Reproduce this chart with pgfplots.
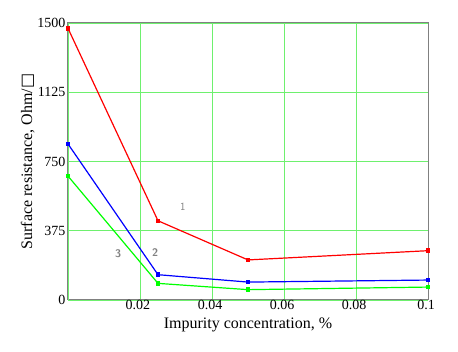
\documentclass[border=0pt]{standalone}
\usepackage{pgfplots}
\pgfplotsset{compat=1.18}
\usepackage{fontspec}
\setmainfont{Liberation Serif}
\newfontfamily\symfont{DejaVu Sans}
\definecolor{gridgreen}{RGB}{110,240,110}
\definecolor{framegray}{RGB}{128,128,128}
\begin{document}
\begin{tikzpicture}
\begin{axis}[
    scale only axis,
    width=360pt, height=277pt,
    xmin=0, xmax=0.1, ymin=0, ymax=1500,
    xtick={0.02,0.04,0.06,0.08,0.1},
    xticklabels={0.02,0.04,0.06,0.08,0.1},
    ytick={0,375,750,1125,1500},
    yticklabel style={/pgf/number format/1000 sep={}},
    extra x ticks={0}, extra x tick labels={},
    grid=major,
    major grid style={gridgreen, line width=0.9pt},
    tick style={draw=none},
    axis line style={framegray, line width=1pt},
    /pgf/number format/assume math mode=true,
    tick label style={font=\fontsize{14}{16}\selectfont},
    label style={font=\fontsize{16}{18}\selectfont},
    xticklabel style={yshift=3pt, xshift=-2pt},
    yticklabel style={xshift=1pt},
    xlabel={Impurity concentration, \%},
    ylabel={Surface resistance, Ohm/{\symfont □}},
    xlabel style={yshift=-1pt},
    ylabel style={yshift=-4pt},
    every axis plot/.append style={line width=1.2pt, mark=square*, mark size=1.6pt},
]
\addplot[red] coordinates {(0,1471) (0.025,429) (0.05,217) (0.1,267)};
\addplot[blue] coordinates {(0,845) (0.025,137) (0.05,97) (0.1,108)};
\addplot[green] coordinates {(0,671) (0.025,90) (0.05,56) (0.1,70)};
\node[gray, font=\sffamily\fontsize{11}{12}\selectfont] at (axis cs:0.0319,504) {1};
\node[gray, font=\sffamily\bfseries\fontsize{11}{12}\selectfont] at (axis cs:0.0242,255) {2};
\node[gray, font=\sffamily\bfseries\fontsize{11}{12}\selectfont] at (axis cs:0.0139,250) {3};
\end{axis}
\path ([xshift=-68pt,yshift=-52pt]current axis.south west) rectangle ([xshift=30pt,yshift=23pt]current axis.north east);
\end{tikzpicture}
\end{document}
